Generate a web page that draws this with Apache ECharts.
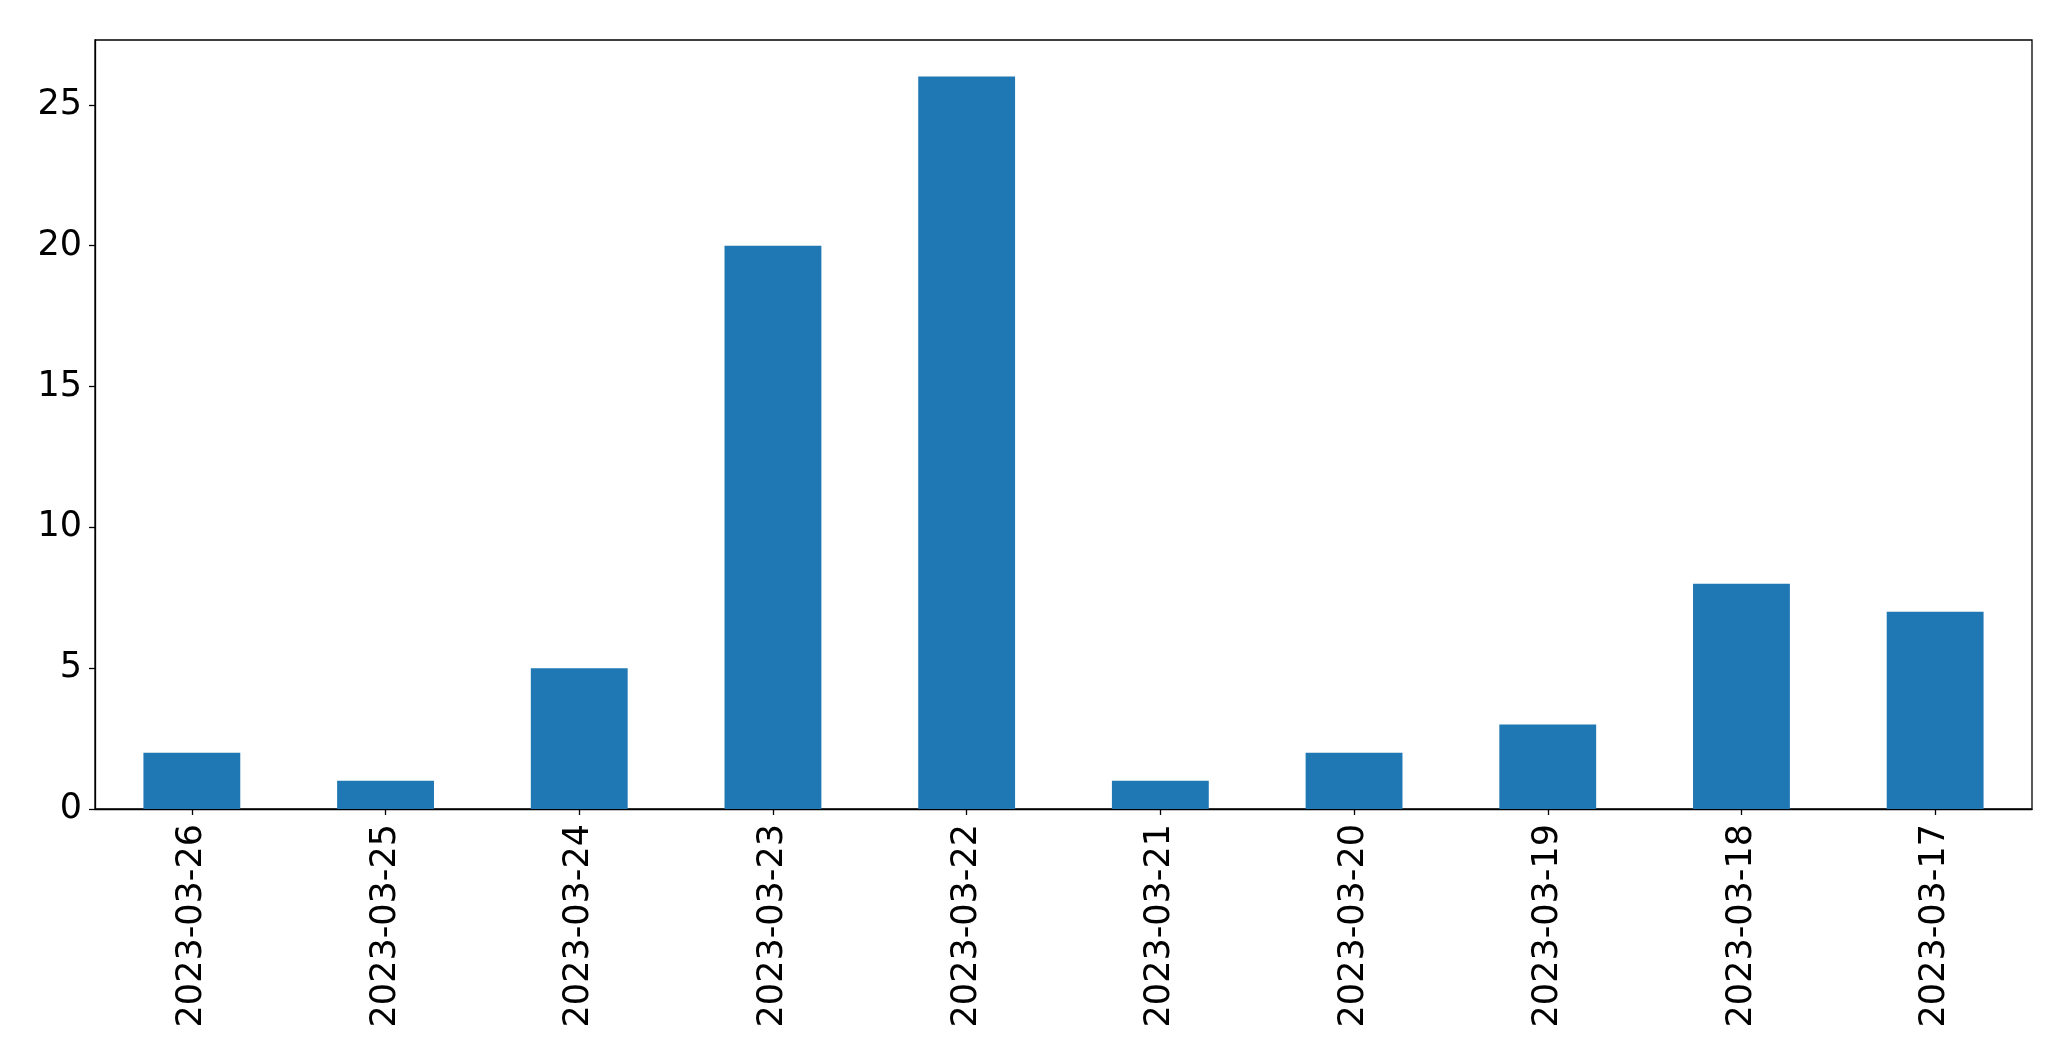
<!DOCTYPE html>
<html>
<head>
<meta charset="utf-8">
<script src="https://cdn.jsdelivr.net/npm/echarts@6/dist/echarts.min.js"></script>
<style>
html,body{margin:0;padding:0;background:#fff;}
#chart{width:2071px;height:1061px;}
</style>
</head>
<body>
<div id="chart"></div>
<script>
const categories = ["2023-03-26","2023-03-25","2023-03-24","2023-03-23","2023-03-22","2023-03-21","2023-03-20","2023-03-19","2023-03-18","2023-03-17"];
const values = [2, 1, 5, 20, 26, 1, 2, 3, 8, 7];
const yTicks = [0, 5, 10, 15, 20, 25];

const chart = echarts.init(document.getElementById('chart'), null, {renderer: 'canvas'});
const font = "'DejaVu Sans', sans-serif";
chart.setOption({
  animation: false,
  backgroundColor: '#ffffff',
  grid: {left: 95, right: 39, top: 40, bottom: 252, containLabel: false,
         show: true, borderColor: '#000', borderWidth: 1.3, backgroundColor: 'transparent'},
  xAxis: {
    type: 'category',
    data: categories,
    axisLine: {show: true, lineStyle: {color: '#000', width: 1.3}},
    axisTick: {show: true, alignWithLabel: true, length: 6, lineStyle: {color: '#000', width: 1.3}},
    axisLabel: {rotate: 90, margin: 15, color: '#000', fontSize: 35, fontFamily: font, interval: 0},
    splitLine: {show: false}
  },
  yAxis: {
    type: 'value',
    min: 0,
    max: 27.3,
    interval: 5,
    axisLine: {show: true, lineStyle: {color: '#000', width: 1.3}},
    axisTick: {show: true, length: 6, lineStyle: {color: '#000', width: 1.3}},
    axisLabel: {margin: 13, color: '#000', fontSize: 35, fontFamily: font,
      showMaxLabel: false,
      formatter: v => yTicks.includes(v) ? String(v) : ''},
    splitLine: {show: false}
  },
  series: [{
    type: 'bar',
    data: values,
    barWidth: '50%',
    itemStyle: {color: '#1f77b4'}
  }]
});
</script>
</body>
</html>
